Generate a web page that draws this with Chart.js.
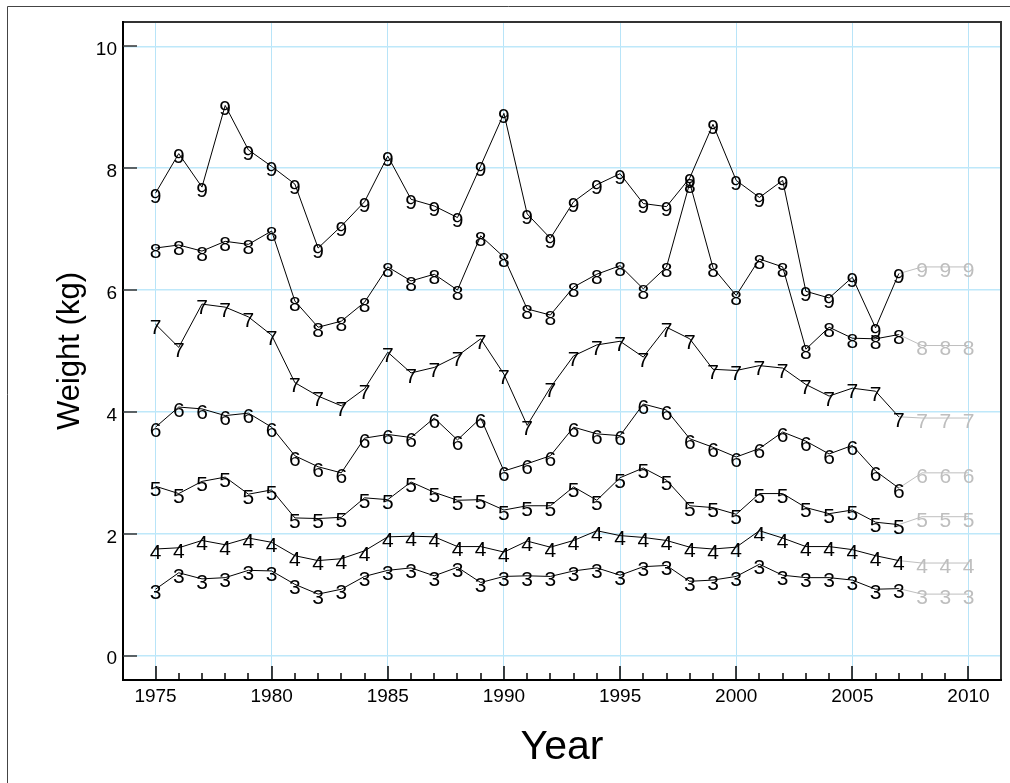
<!DOCTYPE html>
<html>
<head>
<meta charset="utf-8">
<script src="https://cdn.jsdelivr.net/npm/chart.js@4/dist/chart.umd.min.js"></script>
<style>
html,body{margin:0;padding:0;background:#fff;}
canvas{display:block;}
</style>
</head>
<body>
<canvas id="c" width="1010" height="783"></canvas>
<script>
// ---- data ----
const years = [1975,1976,1977,1978,1979,1980,1981,1982,1983,1984,1985,1986,1987,1988,1989,1990,1991,1992,1993,1994,1995,1996,1997,1998,1999,2000,2001,2002,2003,2004,2005,2006,2007];
const projYears = [2008,2009,2010];
const ages = [3,4,5,6,7,8,9];
const w3 = [1.09,1.36,1.26,1.28,1.40,1.39,1.17,1.01,1.09,1.30,1.40,1.44,1.31,1.45,1.20,1.30,1.31,1.30,1.39,1.44,1.32,1.46,1.48,1.22,1.24,1.30,1.50,1.32,1.28,1.28,1.24,1.09,1.10];
const w4 = [1.75,1.77,1.89,1.82,1.93,1.86,1.64,1.56,1.59,1.72,1.95,1.96,1.95,1.79,1.79,1.70,1.88,1.78,1.89,2.05,1.97,1.94,1.89,1.78,1.75,1.78,2.05,1.93,1.79,1.79,1.74,1.64,1.56];
const w5 = [2.78,2.66,2.86,2.93,2.65,2.72,2.26,2.25,2.27,2.59,2.56,2.85,2.68,2.55,2.56,2.39,2.46,2.46,2.77,2.55,2.92,3.08,2.88,2.46,2.43,2.32,2.66,2.66,2.43,2.33,2.39,2.19,2.15];
const w6 = [3.75,4.08,4.05,3.94,3.98,3.75,3.28,3.10,3.00,3.57,3.63,3.58,3.90,3.54,3.90,3.03,3.15,3.28,3.75,3.64,3.61,4.13,4.03,3.56,3.42,3.26,3.40,3.67,3.52,3.31,3.45,3.03,2.75];
const w7 = [5.44,5.06,5.77,5.72,5.56,5.26,4.48,4.26,4.10,4.38,4.98,4.64,4.73,4.92,5.20,4.62,3.78,4.40,4.92,5.10,5.16,4.90,5.39,5.20,4.70,4.68,4.76,4.72,4.45,4.26,4.39,4.34,3.92];
const w8 = [6.69,6.74,6.64,6.80,6.75,6.97,5.82,5.39,5.49,5.80,6.38,6.15,6.26,6.00,6.89,6.54,5.69,5.59,6.05,6.26,6.40,6.02,6.38,7.76,6.37,5.91,6.51,6.38,5.03,5.39,5.21,5.20,5.27];
const w9 = [7.59,8.24,7.69,9.03,8.30,8.03,7.74,6.69,7.05,7.45,8.20,7.49,7.38,7.19,8.04,8.90,7.25,6.85,7.45,7.73,7.91,7.42,7.37,7.84,8.72,7.80,7.52,7.80,5.98,5.87,6.21,5.38,6.27];
const projValues = [1.01,1.52,2.28,3.00,3.90,5.09,6.38]; // ages 3..9, years 2008-2010
const xTicks = [1975,1980,1985,1990,1995,2000,2005,2010];
const yTicks = [0,2,4,6,8,10];

const series = [w3,w4,w5,w6,w7,w8,w9];
const FONT = '"Liberation Sans", Arial, Helvetica, sans-serif';
Chart.defaults.font.family = FONT;
Chart.defaults.color = '#000';

const BLACK = '#000', GREY = '#bebebe';
const datasets = [];
ages.forEach((a, i) => {
  datasets.push({
    digit: String(a), digitColor: BLACK, skipFirst: false,
    data: years.map((yr, j) => ({x: yr, y: series[i][j]})),
    borderColor: BLACK, borderWidth: 1, pointRadius: 0,
    fill: false, tension: 0, order: 1
  });
});
ages.forEach((a, i) => {
  const last = series[i][series[i].length - 1];
  datasets.push({
    digit: String(a), digitColor: GREY, skipFirst: true,
    data: [{x: years[years.length - 1], y: last}].concat(projYears.map(yr => ({x: yr, y: projValues[i]}))),
    borderColor: GREY, borderWidth: 1, pointRadius: 0,
    fill: false, tension: 0, order: 2
  });
});

const framePlugin = {
  id: 'frame',
  beforeDraw(chart){
    const ctx = chart.ctx;
    ctx.save();
    ctx.fillStyle = '#fff';
    ctx.fillRect(0, 0, chart.width, chart.height);
    ctx.strokeStyle = '#444';
    ctx.lineWidth = 1;
    ctx.beginPath();
    ctx.moveTo(7.5, chart.height);
    ctx.lineTo(7.5, 6.5);
    ctx.lineTo(chart.width, 6.5);
    ctx.stroke();
    ctx.restore();
  },
  beforeDatasetsDraw(chart){
    const ctx = chart.ctx, ca = chart.chartArea;
    const xs = chart.scales.x, ys = chart.scales.y;
    ctx.save();
    ctx.strokeStyle = '#333';
    ctx.lineWidth = 2;
    ctx.strokeRect(ca.left, ca.top, ca.right - ca.left, ca.bottom - ca.top);
    ctx.strokeStyle = '#000';
    ctx.beginPath();
    ctx.moveTo(ca.left, ca.top - 1);
    ctx.lineTo(ca.left, ca.bottom);
    ctx.lineTo(ca.right + 1, ca.bottom);
    ctx.stroke();
    ctx.strokeStyle = '#333';
    ctx.lineWidth = 1.5;
    yTicks.forEach(v => {
      const py = Math.round(ys.getPixelForValue(v));
      ctx.beginPath();
      ctx.moveTo(ca.left, py);
      ctx.lineTo(ca.left + 14, py);
      ctx.stroke();
    });
    ctx.strokeStyle = '#000';
    ctx.lineWidth = 1.5;
    for (let yr = xTicks[0]; yr <= xTicks[xTicks.length - 1]; yr++) {
      const px = Math.round(xs.getPixelForValue(yr));
      const len = xTicks.includes(yr) ? 14 : 7;
      ctx.beginPath();
      ctx.moveTo(px, ca.bottom);
      ctx.lineTo(px, ca.bottom - len);
      ctx.stroke();
    }
    ctx.restore();
  },
  afterDatasetsDraw(chart){
    const ctx = chart.ctx;
    ctx.save();
    ctx.font = '21px ' + FONT;
    ctx.textAlign = 'center';
    ctx.textBaseline = 'middle';
    const order = chart.data.datasets.map((d, i) => i).sort((a, b) =>
      (chart.data.datasets[b].order || 0) - (chart.data.datasets[a].order || 0));
    order.forEach(i => {
      const ds = chart.data.datasets[i];
      const meta = chart.getDatasetMeta(i);
      ctx.fillStyle = ds.digitColor;
      meta.data.forEach((el, j) => {
        if (ds.skipFirst && j === 0) return;
        ctx.fillText(ds.digit, el.x, el.y + 4);
      });
    });
    ctx.restore();
  }
};

new Chart(document.getElementById('c'), {
  type: 'line',
  data: {datasets},
  options: {
    responsive: false,
    devicePixelRatio: 1,
    animation: false,
    events: [],
    layout: {padding: {top: 22, right: 9, left: 0, bottom: 0}},
    plugins: {legend: {display: false}, tooltip: {enabled: false}},
    scales: {
      x: {
        type: 'linear', min: 1973.6, max: 2011.4,
        afterBuildTicks: s => { s.ticks = xTicks.map(v => ({value: v})); },
        afterFit: s => { s.height = 103; },
        ticks: {autoSkip: false, maxRotation: 0, padding: 5, font: {size: 19}, color: '#000',
                callback: v => String(v)},
        grid: {color: 'rgb(184,228,248)', lineWidth: 1, drawTicks: false},
        border: {display: false},
        title: {display: true, text: 'Year', font: {size: 41}, color: '#000',
                padding: {top: 0, bottom: 11}}
      },
      y: {
        type: 'linear', min: -0.4, max: 10.4,
        afterBuildTicks: s => { s.ticks = yTicks.map(v => ({value: v})); },
        afterFit: s => { s.width = 123; },
        ticks: {padding: 6, labelOffset: 3.5, font: {size: 19}, color: '#000',
                callback: v => String(v)},
        grid: {color: 'rgb(190,232,250)', lineWidth: 1.5, drawTicks: false},
        border: {display: false},
        title: {display: true, text: 'Weight (kg)', font: {size: 31}, color: '#000',
                padding: {top: 52, bottom: 0}}
      }
    }
  },
  plugins: [framePlugin]
});
</script>
</body>
</html>
